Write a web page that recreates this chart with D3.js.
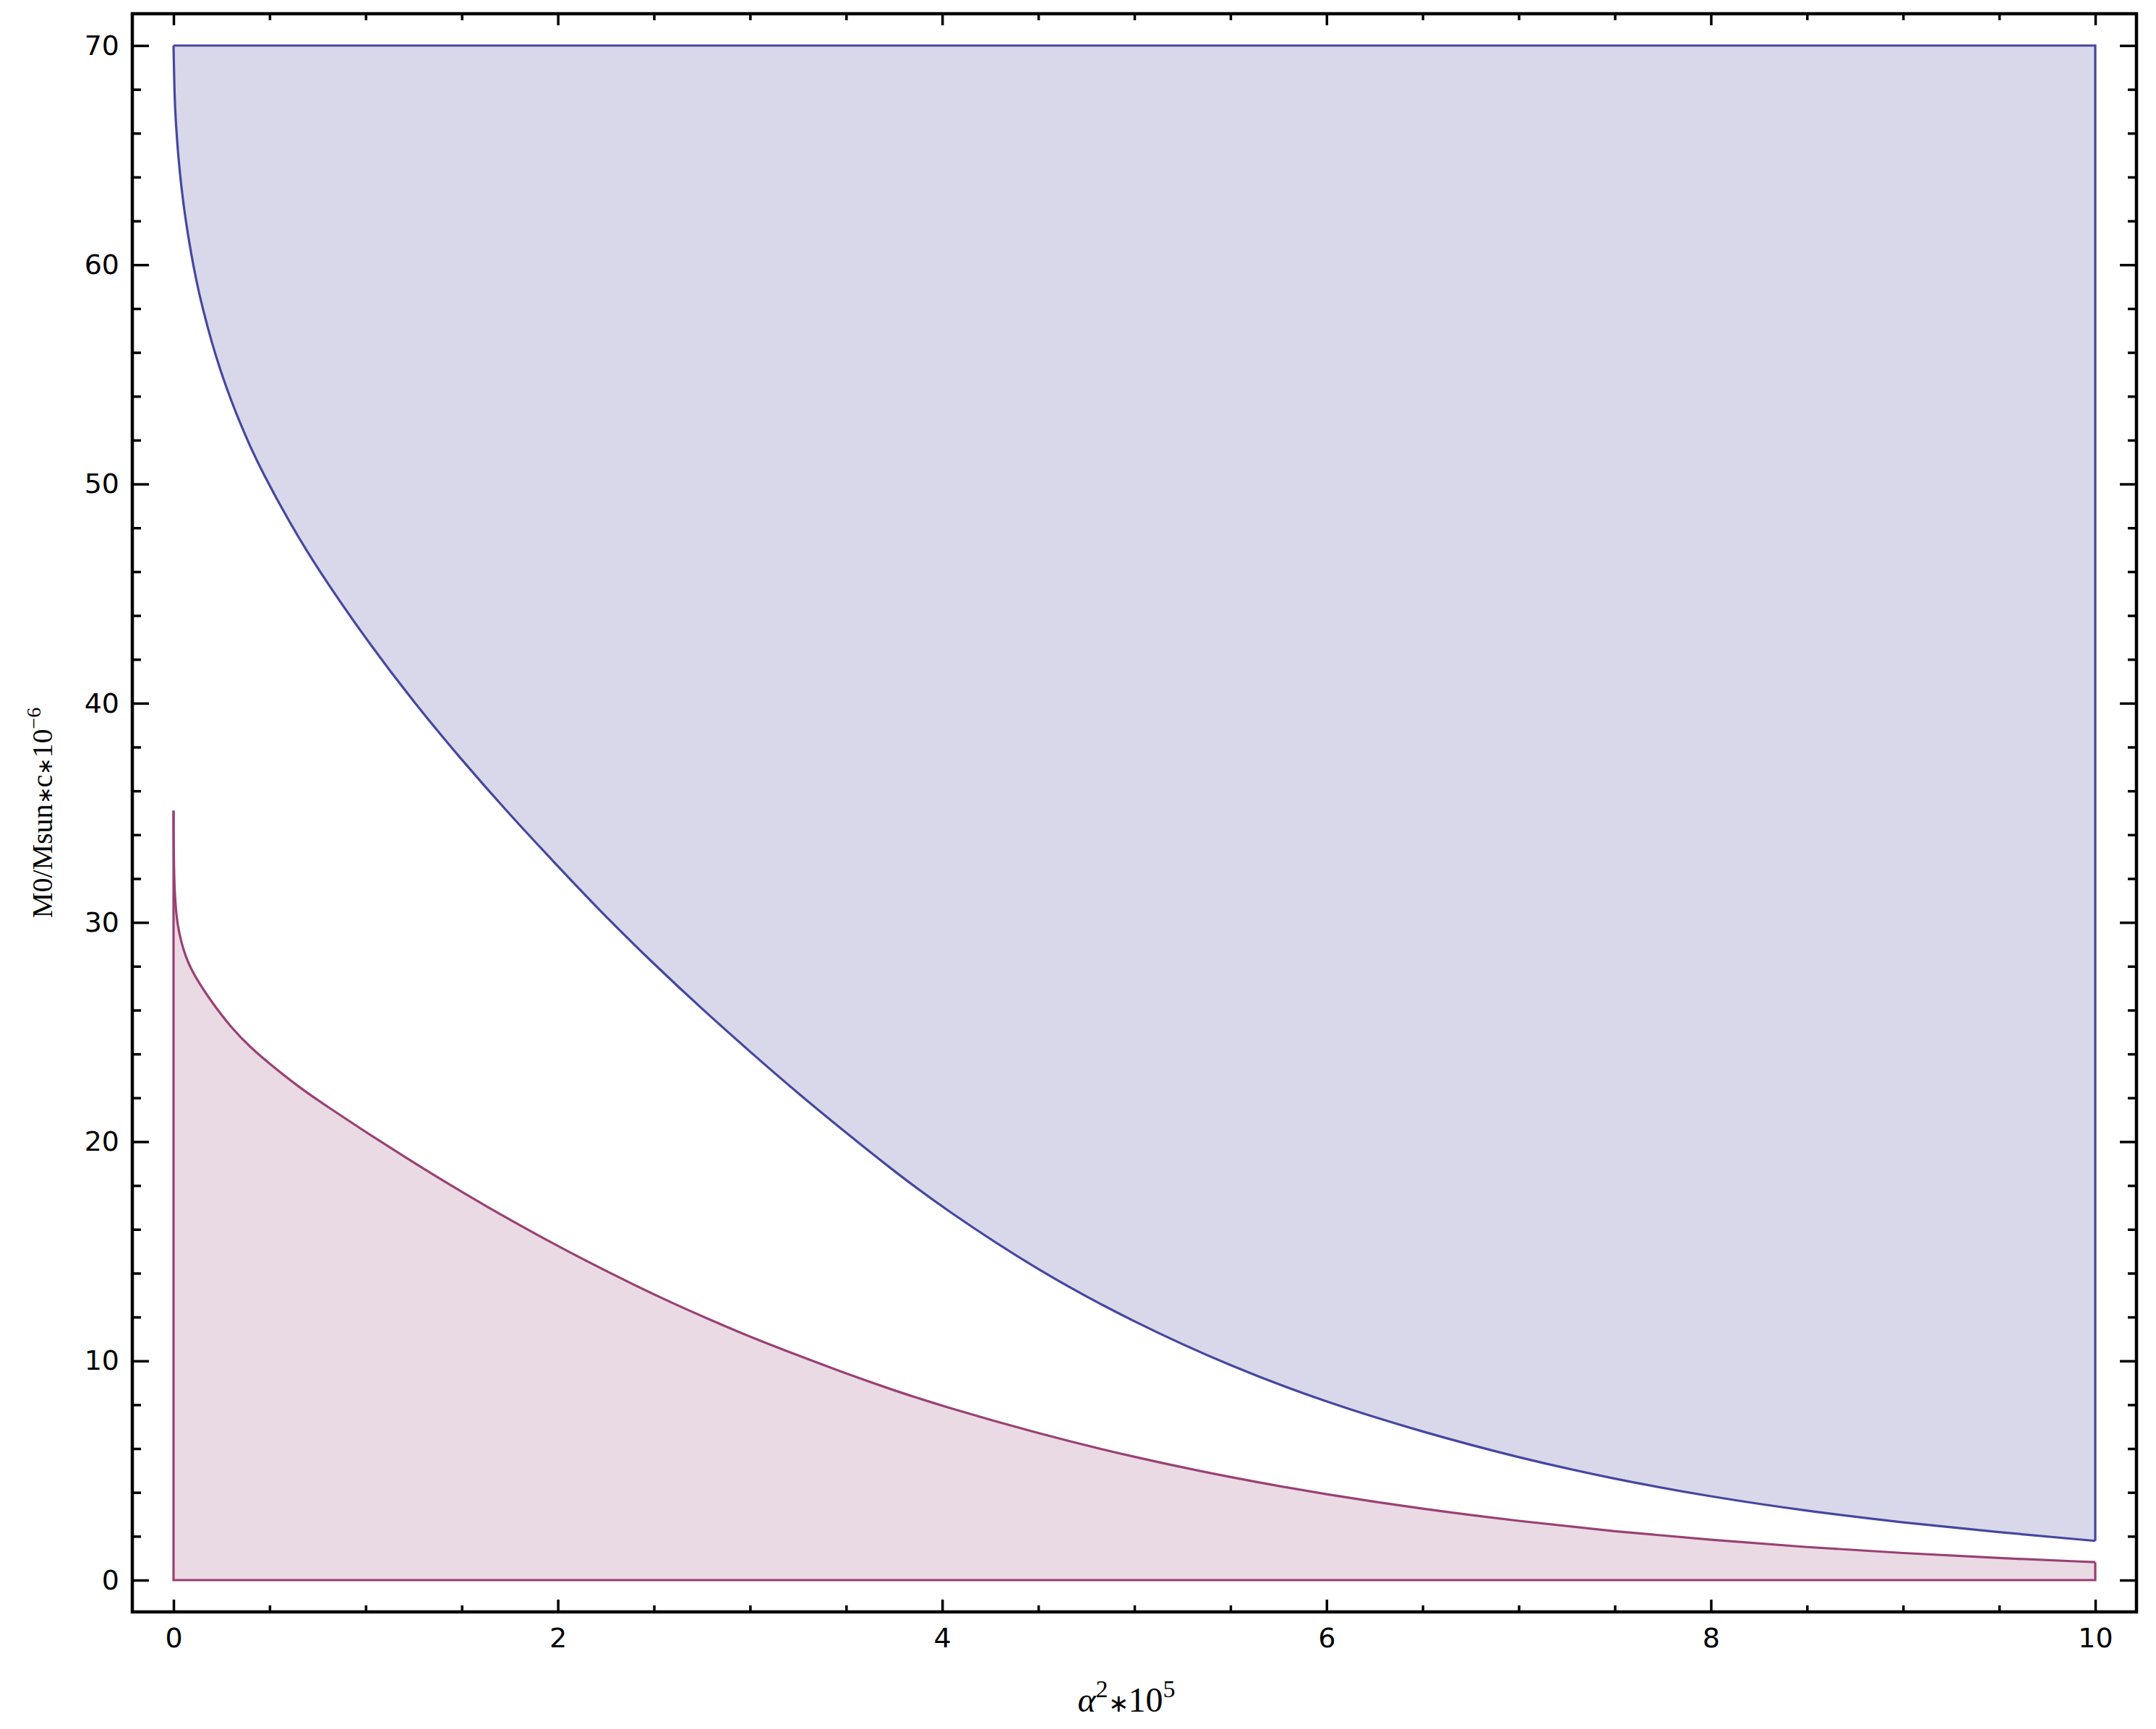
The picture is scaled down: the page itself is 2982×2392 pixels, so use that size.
<!DOCTYPE html>
<html>
<head>
<meta charset="utf-8">
<script src="https://cdn.jsdelivr.net/npm/d3@7"></script>
<style>
  body { margin: 0; background: #fff; }
</style>
</head>
<body>
<svg id="chart"></svg>
<script>
// upper region boundary (blue), alpha^2*10^5 vs M0/Msun*10^-6
var upperX = [0, 0.005, 0.012, 0.025, 0.04, 0.06, 0.09, 0.12, 0.15, 0.2, 0.25, 0.3, 0.35, 0.4, 0.46, 0.6, 0.75,
              1.0, 1.25, 1.5, 1.75, 2.0, 2.25, 2.5, 2.75, 3.0, 3.25, 3.5, 3.75, 4.0, 4.5, 5.0, 5.5, 6.0, 6.5,
              7.0, 7.5, 8.0, 8.5, 9.0, 9.5, 10];
var upperY = [70, 67.7, 66.45, 64.9, 63.59, 62.2, 60.56, 59.21, 58.06, 56.41, 55.02, 53.8, 52.7, 51.69, 50.58, 48.29, 46.12,
              42.93, 40.05, 37.4, 34.91, 32.56, 30.25, 28.1, 26.05, 24.1, 22.2, 20.4, 18.65, 17.0, 14.1, 11.75, 9.75, 8.1, 6.75,
              5.58, 4.6, 3.8, 3.15, 2.62, 2.18, 1.79];
var upperTop = 70;

// lower region boundary (purple)
var lowerX = [0, 0.0005, 0.002, 0.006, 0.012, 0.021, 0.04, 0.063, 0.09, 0.13, 0.2, 0.3, 0.4, 0.5, 0.65, 0.8,
              1.0, 1.2, 1.4, 1.64, 1.9, 2.14, 2.4, 2.58, 2.8, 3.0, 3.235, 3.5, 3.75, 4.0, 4.5, 5.0, 5.5, 6.0, 6.5,
              7.0, 7.5, 8.0, 8.5, 9.0, 9.5, 10];
var lowerY = [35.1, 33.8, 32.6, 31.4, 30.6, 29.9, 29.1, 28.45, 27.9, 27.27, 26.35, 25.2, 24.3, 23.55, 22.5, 21.6,
              20.44, 19.32, 18.23, 16.98, 15.71, 14.59, 13.45, 12.7, 11.84, 11.1, 10.3, 9.42, 8.65, 7.94, 6.68, 5.6, 4.68, 3.9, 3.24,
              2.69, 2.22, 1.83, 1.5, 1.23, 1.0, 0.82];
var lowerBase = 0;

var xMajor = [0, 2, 4, 6, 8, 10];
var xMinor = [0.5, 1, 1.5, 2.5, 3, 3.5, 4.5, 5, 5.5, 6.5, 7, 7.5, 8.5, 9, 9.5];
var yMajor = [0, 10, 20, 30, 40, 50, 60, 70];
var yMinor = [2, 4, 6, 8, 12, 14, 16, 18, 22, 24, 26, 28, 32, 34, 36, 38, 42, 44, 46, 48, 52, 54, 56, 58, 62, 64, 66, 68];

var width = 2982, height = 2392;
var padLeft = 183, padRight = 2955, padTop = 19, padBottom = 2230;

var svg = d3.select("#chart")
  .attr("width", width)
  .attr("height", height);

var x = d3.scaleLinear().domain([-0.2145, 10.2145]).range([padLeft, padRight]);
var y = d3.scaleLinear().domain([-1.45, 71.45]).range([padBottom, padTop]);

var upper = upperX.map((d, i) => [d, upperY[i]]);
var lower = lowerX.map((d, i) => [d, lowerY[i]]);

var blueLine = "#4646a0", blueFill = "#d8d8ea";
var pinkLine = "#9a4074", pinkFill = "#eadae3";

// fills
svg.append("path")
  .datum(upper)
  .attr("fill", blueFill)
  .attr("d", d3.area().curve(d3.curveBasis)
    .x(d => x(d[0])).y0(y(upperTop)).y1(d => y(d[1])));

svg.append("path")
  .datum(lower)
  .attr("fill", pinkFill)
  .attr("d", d3.area().curve(d3.curveBasis)
    .x(d => x(d[0])).y0(y(lowerBase)).y1(d => y(d[1])));

var curve = d3.line().curve(d3.curveBasis).x(d => x(d[0])).y(d => y(d[1]));
var straight = d3.line().x(d => x(d[0])).y(d => y(d[1]));

// outlines
var last = upperX.length - 1;
svg.append("path")
  .attr("fill", "none").attr("stroke", blueLine).attr("stroke-width", 3.2)
  .attr("d", curve(upper));
svg.append("path")
  .attr("fill", "none").attr("stroke", blueLine).attr("stroke-width", 3.2)
  .attr("d", straight([[upperX[0], upperTop], [upperX[last], upperTop], [upperX[last], upperY[last]]]));

var lastL = lowerX.length - 1;
svg.append("path")
  .attr("fill", "none").attr("stroke", pinkLine).attr("stroke-width", 3.2)
  .attr("d", curve(lower));
svg.append("path")
  .attr("fill", "none").attr("stroke", pinkLine).attr("stroke-width", 3.2)
  .attr("d", straight([[lowerX[0], lowerY[0]], [lowerX[0], lowerBase], [lowerX[lastL], lowerBase], [lowerX[lastL], lowerY[lastL]]]));

// axes: ticks point inward, labels on bottom and left only
function addAxis(axis, tx, ty) {
  var g = svg.append("g")
    .attr("transform", "translate(" + tx + "," + ty + ")")
    .call(axis);
  g.select(".domain").remove();
  g.selectAll(".tick line").attr("stroke", "#000").attr("stroke-width", 3.5);
  g.selectAll(".tick text").attr("fill", "#000");
  return g;
}

addAxis(d3.axisBottom(x).tickValues(xMajor).tickSizeInner(-17).tickSizeOuter(0).tickPadding(22)
  .tickFormat(d3.format("d")), 0, padBottom);
addAxis(d3.axisBottom(x).tickValues(xMinor).tickSizeInner(-9).tickSizeOuter(0).tickFormat(""), 0, padBottom);
addAxis(d3.axisTop(x).tickValues(xMajor).tickSizeInner(-16).tickSizeOuter(0).tickFormat(""), 0, padTop);
addAxis(d3.axisTop(x).tickValues(xMinor).tickSizeInner(-9).tickSizeOuter(0).tickFormat(""), 0, padTop);

addAxis(d3.axisLeft(y).tickValues(yMajor).tickSizeInner(-23).tickSizeOuter(0).tickPadding(18)
  .tickFormat(d3.format("d")), padLeft, 0);
addAxis(d3.axisLeft(y).tickValues(yMinor).tickSizeInner(-12).tickSizeOuter(0).tickFormat(""), padLeft, 0);
addAxis(d3.axisRight(y).tickValues(yMajor).tickSizeInner(-23).tickSizeOuter(0).tickFormat(""), padRight, 0);
addAxis(d3.axisRight(y).tickValues(yMinor).tickSizeInner(-12).tickSizeOuter(0).tickFormat(""), padRight, 0);

svg.selectAll("g").attr("font-family", "DejaVu Sans").attr("font-size", 38);

// frame
svg.append("rect")
  .attr("x", padLeft).attr("y", padTop)
  .attr("width", padRight - padLeft).attr("height", padBottom - padTop)
  .attr("fill", "none").attr("stroke", "#000").attr("stroke-width", 4.5);

// axis titles
var xTitle = svg.append("text")
  .attr("x", 1558)
  .attr("y", 2368)
  .attr("text-anchor", "middle")
  .style("font-family", "Liberation Serif, serif")
  .style("font-size", "48px");
xTitle.append("tspan").style("font-style", "italic").text("α");
xTitle.append("tspan").attr("dy", -20).style("font-size", "34px").text("2");
xTitle.append("tspan").attr("dy", 20).style("font-size", "34px").text("∗");
xTitle.append("tspan").text("10");
xTitle.append("tspan").attr("dy", -20).style("font-size", "34px").text("5");

var yTitle = svg.append("text")
  .attr("transform", "translate(72," + ((padTop + padBottom) / 2) + ") rotate(-90)")
  .attr("text-anchor", "middle")
  .style("font-family", "Liberation Serif, serif")
  .style("font-size", "40px");
yTitle.append("tspan").text("M0/Msun");
yTitle.append("tspan").style("font-size", "28px").text("∗");
yTitle.append("tspan").text("c");
yTitle.append("tspan").style("font-size", "28px").text("∗");
yTitle.append("tspan").text("10");
yTitle.append("tspan").attr("dy", -16).style("font-size", "28px").text("−6");
</script>
</body>
</html>
